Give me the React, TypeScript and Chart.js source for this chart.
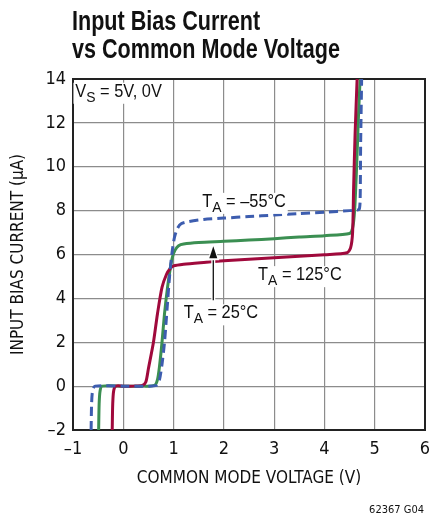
import React, { useEffect, useRef } from "react";
import { Chart, registerables } from "chart.js";
Chart.register(...registerables);

const FONT = '"DejaVu Sans Condensed", "Roboto Condensed", Roboto, sans-serif';
const TEXT_FONT = '"Liberation Sans", Arial, sans-serif';

const X_MIN = -1, X_MAX = 6, X_STEP = 1;
const Y_MIN = -2, Y_MAX = 14, Y_STEP = 2;

// T_A = 125°C
const redX = [-0.22, -0.21, -0.19, -0.15, 0.0, 0.2, 0.38, 0.45, 0.5, 0.6, 0.68, 0.77, 0.86, 0.93, 1.0, 1.2, 1.6, 2.0, 2.5, 3.0, 3.5, 4.0, 4.45, 4.52, 4.56, 4.58, 4.61, 4.65];
const redY = [-2, -0.8, -0.2, 0, 0, 0, 0.03, 0.2, 0.8, 2.0, 3.3, 4.5, 5.1, 5.35, 5.48, 5.56, 5.64, 5.71, 5.78, 5.85, 5.92, 5.99, 6.08, 6.3, 7.0, 9.0, 11.5, 14];
// T_A = 25°C
const greenX = [-0.49, -0.48, -0.46, -0.42, 0, 0.4, 0.62, 0.68, 0.72, 0.77, 0.82, 0.88, 0.93, 0.98, 1.03, 1.1, 1.2, 1.5, 2.0, 2.5, 3.0, 3.5, 4.0, 4.5, 4.56, 4.6, 4.64, 4.68, 4.71];
const greenY = [-2, -0.8, -0.2, 0, 0, 0, 0.03, 0.3, 0.9, 2.0, 3.3, 4.5, 5.3, 5.9, 6.2, 6.4, 6.48, 6.55, 6.6, 6.66, 6.72, 6.8, 6.86, 6.96, 7.2, 8.0, 10, 12.5, 14];
// T_A = -55°C
const blueX = [-0.64, -0.63, -0.61, -0.56, 0, 0.4, 0.66, 0.72, 0.77, 0.82, 0.87, 0.92, 0.97, 1.02, 1.08, 1.15, 1.3, 1.6, 2.0, 2.5, 3.0, 3.5, 4.0, 4.5, 4.62, 4.69, 4.71, 4.72, 4.74];
const blueY = [-2, -0.8, -0.2, 0, 0, 0, 0.03, 0.3, 1.0, 2.0, 3.5, 5.0, 6.1, 6.8, 7.2, 7.4, 7.5, 7.6, 7.66, 7.73, 7.8, 7.87, 7.93, 8.0, 8.02, 8.05, 8.5, 11, 14];

const TITLE_LINES = ["Input Bias Current", "vs Common Mode Voltage"];
const X_TITLE = "COMMON MODE VOLTAGE (V)";
const Y_TITLE = "INPUT BIAS CURRENT (\u00b5A)";
const FOOTER = "62367 G04";

// annotation anchors in data units
const LABELS = [
  { main: "T", sub: "A", rest: " = \u201355\u00b0C", x: 1.57, y: 8.17 },
  { main: "T", sub: "A", rest: " = 125\u00b0C", x: 2.68, y: 4.83 },
  { main: "T", sub: "A", rest: " = 25\u00b0C", x: 1.2, y: 3.09 },
  { main: "V", sub: "S", rest: " = 5V, 0V", x: -0.955, y: 13.19 },
];
const ARROW = { x: 1.79, yFrom: 3.92, yTo: 6.38 };

const COLORS = { red: "#a0093c", green: "#3b8f52", blue: "#3d5daf" };

function pts(xs: number[], ys: number[]) {
  return xs.map((x, i) => ({ x, y: ys[i] }));
}

const decor = {
  id: "decor",
  beforeDatasetsDraw(chart: any) {
    const { ctx, chartArea: a } = chart;
    ctx.save();
    ctx.strokeStyle = "#222";
    ctx.lineWidth = 2;
    ctx.strokeRect(a.left, a.top, a.right - a.left, a.bottom - a.top);
    ctx.restore();
  },
  afterDatasetsDraw(chart: any) {
    const { ctx } = chart;
    const xs = chart.scales.x, ys = chart.scales.y;
    const size = 18;
    const squeeze = 0.91;
    ctx.save();
    ctx.textBaseline = "alphabetic";
    ctx.textAlign = "left";
    // arrow
    const ax = xs.getPixelForValue(ARROW.x);
    const ay0 = ys.getPixelForValue(ARROW.yFrom);
    const ay1 = ys.getPixelForValue(ARROW.yTo);
    ctx.strokeStyle = "#fff";
    ctx.lineWidth = 4;
    ctx.beginPath(); ctx.moveTo(ax, ay0); ctx.lineTo(ax, ay1 + 10); ctx.stroke();
    ctx.strokeStyle = "#111";
    ctx.lineWidth = 1.3;
    ctx.beginPath(); ctx.moveTo(ax, ay0); ctx.lineTo(ax, ay1 + 10); ctx.stroke();
    ctx.fillStyle = "#fff";
    ctx.beginPath(); ctx.moveTo(ax, ay1 - 2); ctx.lineTo(ax - 6, ay1 + 14); ctx.lineTo(ax + 6, ay1 + 14); ctx.closePath(); ctx.fill();
    ctx.fillStyle = "#111";
    ctx.beginPath(); ctx.moveTo(ax, ay1); ctx.lineTo(ax - 4, ay1 + 12); ctx.lineTo(ax + 4, ay1 + 12); ctx.closePath(); ctx.fill();

    for (const L of LABELS) {
      const px = xs.getPixelForValue(L.x);
      const py = ys.getPixelForValue(L.y);
      ctx.font = `${size}px ${TEXT_FONT}`;
      const w1 = ctx.measureText(L.main).width;
      const w3 = ctx.measureText(L.rest).width;
      ctx.font = `${size * 0.85}px ${TEXT_FONT}`;
      const w2 = ctx.measureText(L.sub).width;
      ctx.save();
      ctx.translate(px, py);
      ctx.scale(squeeze, 1);
      ctx.fillStyle = "#fff";
      ctx.fillRect(-2, -size * 0.78, w1 + w2 + w3 + 4, size * 0.78 + 7);
      ctx.fillStyle = "#111";
      ctx.font = `${size}px ${TEXT_FONT}`;
      ctx.fillText(L.main, 0, 0);
      ctx.font = `${size * 0.85}px ${TEXT_FONT}`;
      ctx.fillText(L.sub, w1, 5);
      ctx.font = `${size}px ${TEXT_FONT}`;
      ctx.fillText(L.rest, w1 + w2, 0);
      ctx.restore();
    }

    // title
    ctx.fillStyle = "#111";
    ctx.font = `bold 28px ${TEXT_FONT}`;
    const wTarget = 268;
    const wMeas = ctx.measureText(TITLE_LINES[1]).width;
    const sx = wTarget / wMeas;
    const baselines = [30, 58];
    TITLE_LINES.forEach((t, i) => {
      ctx.save();
      ctx.translate(72, baselines[i]);
      ctx.scale(sx, 1);
      ctx.fillText(t, 0, 0);
      ctx.restore();
    });
    // footer
    ctx.font = `11px ${FONT}`;
    ctx.textAlign = "right";
    ctx.fillText(FOOTER, 424, 513);
    ctx.restore();
  },
};

export default function App() {
  const ref = useRef<HTMLCanvasElement>(null);
  useEffect(() => {
    if (!ref.current) return;
    const lineDs = (label: string, data: any, color: string, dash: number[] = []) => ({
      label,
      data,
      borderColor: color,
      backgroundColor: color,
      borderWidth: 3,
      borderDash: dash,
      pointRadius: 0,
      showLine: true,
      fill: false,
      tension: 0.25,
      borderJoinStyle: "round" as const,
      clip: false as any,
    });
    const chart = new Chart(ref.current, {
      type: "scatter",
      data: {
        datasets: [
          lineDs("-55", pts(blueX, blueY), COLORS.blue, [9, 5]),
          lineDs("125", pts(redX, redY), COLORS.red),
          lineDs("25", pts(greenX, greenY), COLORS.green),
        ],
      },
      options: {
        responsive: false,
        animation: false,
        devicePixelRatio: 1,
        layout: { padding: { left: 0, top: 79, right: 4, bottom: 0 } },
        plugins: { legend: { display: false }, tooltip: { enabled: false }, title: { display: false } },
        scales: {
          x: {
            type: "linear",
            min: X_MIN,
            max: X_MAX,
            ticks: {
              stepSize: X_STEP,
              padding: 9,
              color: "#111",
              font: { family: FONT, size: 18 },
              callback: (v: any) => String(v).replace("-", "\u2013"),
            },
            grid: { color: "#8c8c8c", lineWidth: 1.2, drawTicks: false },
            border: { display: false },
            title: {
              display: true,
              text: X_TITLE,
              color: "#111",
              font: { family: FONT, size: 17 },
              padding: { top: 0, bottom: 30 },
            },
            afterFit: (s: any) => { s.height = 89; s.paddingLeft = 0; s.paddingRight = 0; },
          },
          y: {
            type: "linear",
            min: Y_MIN,
            max: Y_MAX,
            ticks: {
              stepSize: Y_STEP,
              padding: 7,
              color: "#111",
              font: { family: FONT, size: 18 },
              callback: (v: any) => String(v).replace("-", "\u2013"),
            },
            grid: { color: "#8c8c8c", lineWidth: 1.2, drawTicks: false },
            border: { display: false },
            title: {
              display: true,
              text: Y_TITLE,
              color: "#111",
              font: { family: FONT, size: 17 },
              padding: { top: 8, bottom: 0 },
            },
            afterFit: (s: any) => { s.width = 73; s.paddingTop = 0; s.paddingBottom = 0; },
          },
        },
      },
      plugins: [decor],
    });
    return () => chart.destroy();
  }, []);
  return (
    <div style={{ position: "absolute", left: 0, top: 0, width: 429, height: 519, background: "#fff" }}>
      <canvas ref={ref} width={429} height={519} />
    </div>
  );
}
